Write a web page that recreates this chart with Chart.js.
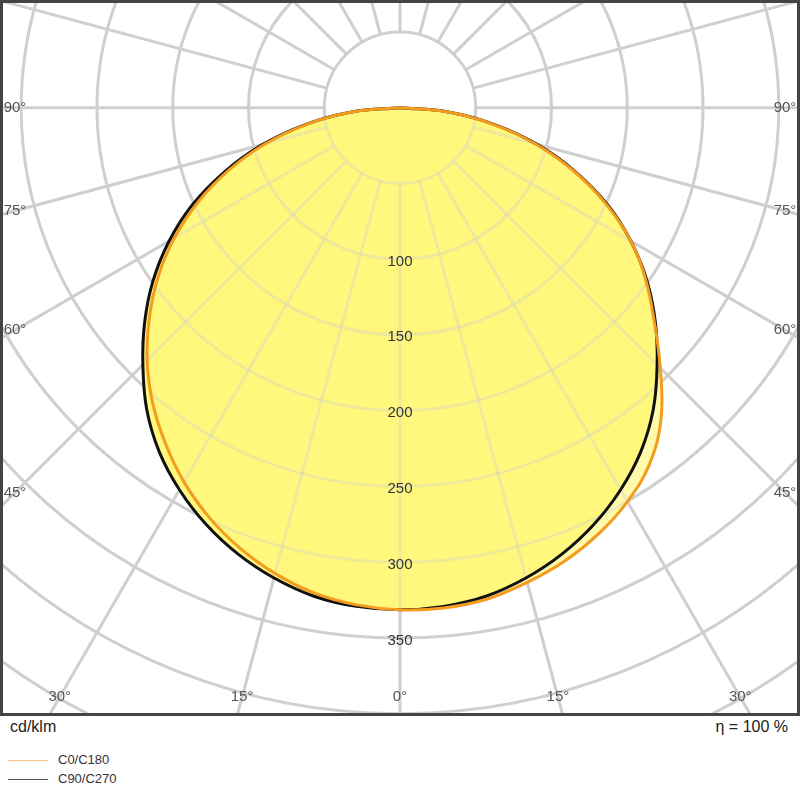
<!DOCTYPE html>
<html>
<head>
<meta charset="utf-8">
<script src="https://cdn.jsdelivr.net/npm/chart.js@4.4.1/dist/chart.umd.min.js"></script>
<style>
  body { margin: 0; background: #fff; font-family: "Liberation Sans", "DejaVu Sans", sans-serif; }
  #wrap { position: relative; width: 800px; height: 716px; }
  .txt { position: absolute; color: #222; font-size: 16px; }
  .leg { position: absolute; left: 8px; font-size: 13px; color: #333; }
  .leg span { display: inline-block; width: 40px; height: 1px; vertical-align: middle; margin-right: 10px; }
</style>
</head>
<body>
<div id="wrap"><canvas id="ldc" width="800" height="716"></canvas></div>
<div class="txt" style="left:10px;top:718px;">cd/klm</div>
<div class="txt" style="right:12px;top:718px;">η = 100 %</div>
<div class="leg" style="top:752px;"><span style="background:#f5c88a"></span>C0/C180</div>
<div class="leg" style="top:771px;"><span style="background:#555"></span>C90/C270</div>
<script>
// gamma angles (deg) and intensities (cd/klm)
const gammas = [0, 5, 10, 15, 20, 25, 30, 35, 40, 45, 50, 55, 60, 65, 70, 75, 80, 85, 90];
const c0 = [332, 331, 329, 324, 318, 310, 300, 287, 268, 243, 219, 198, 176, 150, 122, 93, 62, 31, 0];
const c180 = [331, 329, 325, 318, 309, 298, 285, 270, 254, 236, 216, 195, 172, 147, 120, 92, 62, 31, 0];
const c90 = [331, 330, 327, 321, 313, 303, 291, 277, 260, 240, 220, 199, 176, 151, 123, 94, 63, 32, 0];
const c270 = c90;
const ringValues = [100, 150, 200, 250, 300, 350];
const sideAngles = [45, 60, 75, 90];
const bottomAngles = [0, 15, 30];
const fillColors = ['rgba(255,251,170,1)', 'rgba(255,248,125,1)'];

function toXY(left, right) {
  const pts = [];
  for (let i = gammas.length - 1; i >= 0; i--) {
    const a = gammas[i] * Math.PI / 180;
    pts.push({ x: -left[i] * Math.sin(a), y: -left[i] * Math.cos(a) });
  }
  for (let i = 1; i < gammas.length; i++) {
    const a = gammas[i] * Math.PI / 180;
    pts.push({ x: right[i] * Math.sin(a), y: -right[i] * Math.cos(a) });
  }
  return pts;
}

function drawGrid(ctx, ca, cx, cy, k, alpha) {
  ctx.save();
  ctx.beginPath(); ctx.rect(ca.left, ca.top, ca.width, ca.height); ctx.clip();
  ctx.globalAlpha = alpha;
  ctx.strokeStyle = '#cfcfcf'; ctx.lineWidth = 3;
  for (let r = 50; r <= 600; r += 50) {
    ctx.beginPath(); ctx.arc(cx, cy, r * k, 0, Math.PI * 2); ctx.stroke();
  }
  for (let d = 0; d < 360; d += 15) {
    const a = d * Math.PI / 180;
    ctx.beginPath();
    ctx.moveTo(cx + Math.sin(a) * 50 * k, cy + Math.cos(a) * 50 * k);
    ctx.lineTo(cx + Math.sin(a) * 700 * k, cy + Math.cos(a) * 700 * k);
    ctx.stroke();
  }
  ctx.restore();
}

const polarGrid = {
  id: 'polarGrid',
  beforeDatasetsDraw(chart) {
    const { ctx, chartArea: ca, scales: { x, y } } = chart;
    const cx = x.getPixelForValue(0), cy = y.getPixelForValue(0);
    const k = x.getPixelForValue(1) - cx;
    drawGrid(ctx, ca, cx, cy, k, 1);
    // fills from the line elements' own paths
    chart.data.datasets.forEach((ds, i) => {
      const meta = chart.getDatasetMeta(i);
      ctx.save();
      ctx.beginPath();
      meta.dataset.path(ctx);
      ctx.closePath();
      ctx.fillStyle = fillColors[i];
      ctx.fill();
      ctx.restore();
    });
    // grid faintly visible through the fill
    ctx.save();
    ctx.beginPath();
    chart.getDatasetMeta(0).dataset.path(ctx);
    ctx.closePath();
    ctx.clip();
    drawGrid(ctx, ca, cx, cy, k, 0.35);
    ctx.restore();
  },
  afterDatasetsDraw(chart) {
    const { ctx, chartArea: ca, scales: { x, y } } = chart;
    const cx = x.getPixelForValue(0), cy = y.getPixelForValue(0);
    ctx.save();
    ctx.font = '15px "Liberation Sans", sans-serif';
    ctx.fillStyle = '#333'; ctx.textAlign = 'center'; ctx.textBaseline = 'middle';
    ringValues.forEach(v => ctx.fillText(String(v), cx, y.getPixelForValue(-v) + 2));
    ctx.fillStyle = '#555';
    const by = 697;
    bottomAngles.forEach(d => {
      const dx = (by - cy) * Math.tan(d * Math.PI / 180);
      ctx.fillText(d + '°', cx - dx, by);
      if (d) ctx.fillText(d + '°', cx + dx, by);
    });
    sideAngles.forEach(d => {
      const dy = d === 90 ? 0 : (cx - 15) / Math.tan(d * Math.PI / 180);
      ctx.fillText(d + '°', 15, cy + dy);
      ctx.fillText(d + '°', 785, cy + dy);
    });
    ctx.strokeStyle = '#444'; ctx.lineWidth = 3;
    ctx.strokeRect(ca.left + 1.5, ca.top + 1.5, ca.width - 3, ca.height - 3);
    ctx.restore();
  }
};

new Chart(document.getElementById('ldc'), {
  type: 'scatter',
  data: {
    datasets: [
      { label: 'C0/C180', data: toXY(c180, c0), showLine: true, tension: 0.4,
        borderColor: '#f39c1e', borderWidth: 3, pointRadius: 0, fill: false },
      { label: 'C90/C270', data: toXY(c270, c90), showLine: true, tension: 0.4,
        borderColor: '#111', borderWidth: 3, pointRadius: 0, fill: false }
    ]
  },
  options: {
    responsive: false, animation: false,
    layout: { padding: 0 },
    plugins: { legend: { display: false }, tooltip: { enabled: false } },
    scales: {
      x: { type: 'linear', min: -264, max: 264, display: false },
      y: { type: 'linear', min: -401, max: 71, display: false }
    }
  },
  plugins: [polarGrid]
});
</script>
</body>
</html>
